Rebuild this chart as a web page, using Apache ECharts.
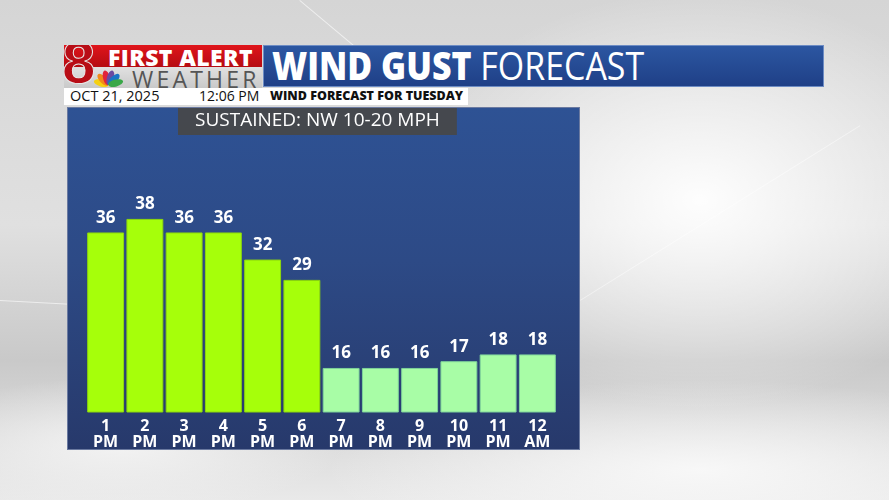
<!DOCTYPE html>
<html>
<head>
<meta charset="utf-8">
<script src="https://cdn.jsdelivr.net/npm/echarts@6/dist/echarts.min.js"></script>
<style>
  html, body { margin: 0; padding: 0; }
  body {
    width: 889px; height: 500px; overflow: hidden; position: relative;
    font-family: "Open Sans", sans-serif;
    background:
      radial-gradient(ellipse 420px 300px at 700px 200px, rgba(255,255,255,0.95), rgba(255,255,255,0) 70%),
      radial-gradient(ellipse 500px 120px at 700px 470px, rgba(250,250,250,0.9), rgba(250,250,250,0) 75%),
      radial-gradient(ellipse 300px 90px at 120px 445px, rgba(245,245,245,0.9), rgba(245,245,245,0) 75%),
      linear-gradient(180deg, #d5d5d5 0%, #e0e0e0 45%, #c9c9c9 72%, #e9e9e9 100%);
  }
  .streak { position: absolute; height: 1px; background: rgba(255,255,255,0.6); transform-origin: 0 0; }
  .logo { position: absolute; left: 64px; top: 45px; width: 198px; height: 43px; overflow: hidden;
    background: linear-gradient(180deg, #fafafa, #c9c9c9); }
  .logo .red { position: absolute; left: 0; top: 0; width: 198px; height: 22px;
    background: linear-gradient(180deg, #e0141b, #b50c12); }
  .logo .fa { position: absolute; left: 44px; top: -4px; color: #fff; font-weight: 800; font-size: 23px; letter-spacing: 0.4px; }
  .logo .wx { position: absolute; left: 68px; top: 18px; color: #555; font-size: 23px; letter-spacing: 3.2px; }
  .logo .eight { position: absolute; left: -2px; top: -12px; color: #b80d16; font-weight: 800; font-size: 60px; line-height: 1;
    font-family: "Liberation Sans", sans-serif; -webkit-text-stroke: 1px #e8e8e8; }
  .pea { position: absolute; width: 7px; height: 15px; border-radius: 50% 50% 45% 45%; transform-origin: 50% 100%; }
  .titlebar { position: absolute; left: 263px; top: 45px; width: 561px; height: 42px;
    background: linear-gradient(180deg, #2c57a2, #1f3f86); box-shadow: inset 0 0 0 1px #6d8cc4; }
  .titlebar span { position: absolute; left: 9px; top: -7px; color: #fff; font-size: 39px; white-space: nowrap;
    transform: scaleX(0.87); transform-origin: 0 0; }
  .strip { position: absolute; left: 64px; top: 88px; width: 404px; height: 17px; background: #fff; color: #111; }
  .strip span { position: absolute; top: -2px; white-space: nowrap; font-size: 14.5px; }
  .panel { position: absolute; left: 67px; top: 107px; width: 511px; height: 341px;
    background: linear-gradient(180deg, #2e5294 0%, #2d4a86 45%, #27396b 100%); border: 1px solid #6b7aa0; }
  #chart { position: absolute; left: 0; top: 0; width: 889px; height: 500px; }
</style>
</head>
<body>
<div class="streak" style="left:300px;top:0;width:90px;transform:rotate(40deg)"></div>
<div class="streak" style="left:0;top:300px;width:70px;transform:rotate(3deg)"></div>
<div class="streak" style="left:580px;top:300px;width:330px;transform:rotate(-32deg);background:rgba(255,255,255,0.45)"></div>

<div class="logo">
  <div class="red"></div>
  <div class="eight">8</div>
  <div class="fa">FIRST ALERT</div>
  <div class="wx">WEATHER</div>
  <div class="pea" style="left:41px;top:25px;background:#f5d010;transform:rotate(-75deg)"></div>
  <div class="pea" style="left:41px;top:25px;background:#f08a1a;transform:rotate(-45deg)"></div>
  <div class="pea" style="left:41px;top:25px;background:#e2243a;transform:rotate(-15deg)"></div>
  <div class="pea" style="left:41px;top:25px;background:#6b4aa0;transform:rotate(15deg)"></div>
  <div class="pea" style="left:41px;top:25px;background:#1a75c4;transform:rotate(45deg)"></div>
  <div class="pea" style="left:41px;top:25px;background:#3aa848;transform:rotate(75deg)"></div>
</div>
<div class="titlebar"><span><b style="font-weight:800">WIND GUST</b> FORECAST</span></div>
<div class="strip">
  <span style="left:6px">OCT 21, 2025</span>
  <span style="left:135px;font-size:14px">12:06 PM</span>
  <span style="left:206px;top:-1px;font-weight:800;font-size:12.5px">WIND FORECAST FOR TUESDAY</span>
</div>
<div class="panel"></div>
<div id="chart"></div>

<script>
const hours = ['1\nPM', '2\nPM', '3\nPM', '4\nPM', '5\nPM', '6\nPM', '7\nPM', '8\nPM', '9\nPM', '10\nPM', '11\nPM', '12\nAM']
const gusts = [36, 38, 36, 36, 32, 29, 16, 16, 16, 17, 18, 18]
const sustainedText = 'SUSTAINED: NW 10-20 MPH'

let myChart = echarts.init(document.getElementById('chart'), null, { renderer: 'canvas' })

// strong gusts bright green, weaker ones pale green
let barData = gusts.map(v => ({
  value: v,
  itemStyle: v >= 25
    ? { color: '#a6ff0a', borderColor: '#8ed80c', borderWidth: 1 }
    : { color: '#a8fda6', borderColor: '#7fd49b', borderWidth: 1 }
}))

let option = {
  backgroundColor: 'transparent',
  animation: false,
  title: {
    text: sustainedText,
    left: 178,
    top: 108,
    backgroundColor: 'rgba(72,72,72,0.92)',
    padding: [3, 17, 4, 17],
    textStyle: {
      color: '#fff',
      fontFamily: 'Open Sans',
      fontWeight: 'normal',
      fontSize: 19,
      lineHeight: 20
    }
  },
  grid: {
    left: 86,
    right: 332,
    top: 141,
    bottom: 88
  },
  xAxis: {
    type: 'category',
    data: hours,
    axisLine: { show: false },
    axisTick: { show: false },
    splitLine: { show: false },
    axisLabel: {
      interval: 0,
      margin: 6,
      color: '#fff',
      fontFamily: 'Open Sans',
      fontWeight: 'bold',
      fontSize: 16,
      lineHeight: 16
    }
  },
  yAxis: {
    type: 'value',
    min: 9.5,
    max: 49.5,
    show: false,
    splitLine: { show: false }
  },
  series: [{
    type: 'bar',
    data: barData,
    barCategoryGap: '6%',
    label: {
      show: true,
      position: 'top',
      distance: 6,
      color: '#fff',
      fontFamily: 'Open Sans',
      fontWeight: 'bold',
      fontSize: 17
    }
  }]
}
myChart.setOption(option)
</script>
</body>
</html>
